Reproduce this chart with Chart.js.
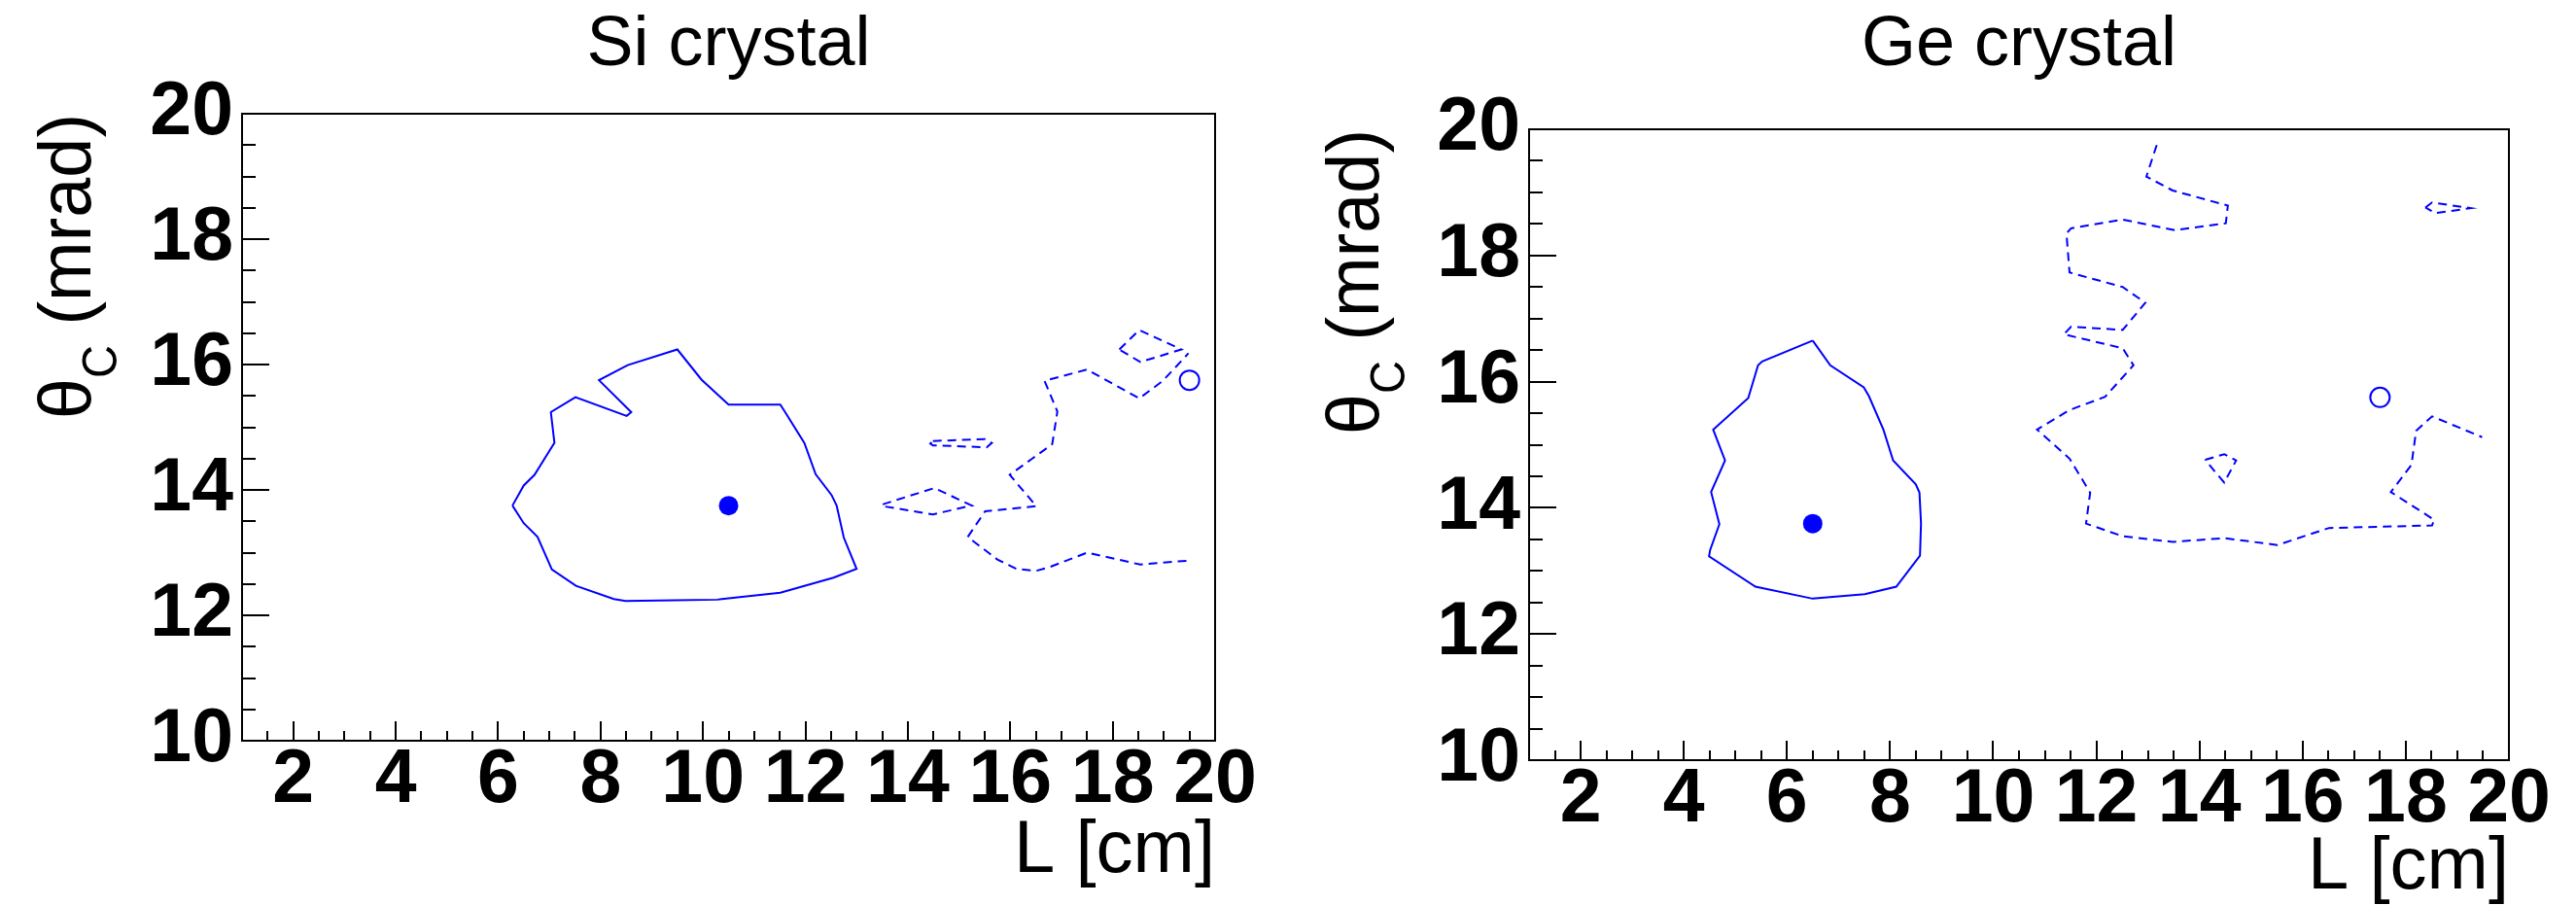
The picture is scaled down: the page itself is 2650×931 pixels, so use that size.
<!DOCTYPE html>
<html><head><meta charset="utf-8">
<script src="https://cdn.jsdelivr.net/npm/chart.js@4.4.1/dist/chart.umd.min.js"></script>
<style>
html,body{margin:0;padding:0;background:#fff;width:2650px;height:931px;overflow:hidden}
canvas{position:absolute;top:0}
#c1{left:0}
#c2{left:1325px}
</style></head><body>
<canvas id="c1" width="1325" height="931"></canvas>
<canvas id="c2" width="1325" height="931"></canvas>
<script>
// ---------------- data ----------------
const xTickLabels = [2, 4, 6, 8, 10, 12, 14, 16, 18, 20];
const yTickLabels = [10, 12, 14, 16, 18, 20];
const panelTitles = ['Si crystal', 'Ge crystal'];
const xAxisTitle = 'L [cm]';

// Si crystal
const siBestL = [10.5];
const siBestTheta = [13.75];
const siOpenL = [19.5];
const siOpenTheta = [15.75];
const siSolidL = [6.28,6.50,6.71,7.10,7.03,7.51,8.51,8.60,7.97,8.53,9.50,9.97,10.50,11.51,11.59,11.98,12.20,12.51,12.61,12.75,13.00,12.55,11.51,10.37,10.28,9.46,8.49,8.26,7.52,7.05,6.77,6.50,6.28];
const siSolidTheta = [13.75,14.07,14.24,14.75,15.24,15.48,15.18,15.24,15.75,15.99,16.24,15.76,15.36,15.36,15.26,14.75,14.25,13.92,13.75,13.24,12.74,12.60,12.36,12.26,12.25,12.24,12.23,12.26,12.47,12.73,13.25,13.47,13.75];
const siDashMainL = [19.44,18.54,17.50,16.77,16.51,16.12,15.75,15.17,15.51,16.51,15.99,16.43,16.82,16.92,16.67,17.50,18.52,18.98,19.48];
const siDashMainTheta = [12.87,12.81,13.00,12.77,12.71,12.74,12.89,13.25,13.66,13.74,14.24,14.50,14.73,15.25,15.74,15.92,15.46,15.74,16.18];
const siDashOvalL = [14.49,15.51,15.64,15.54,14.49,14.44,14.49];
const siDashOvalTheta = [14.78,14.81,14.75,14.68,14.71,14.74,14.78];
const siDashLeftL = [13.51,14.52,15.25,15.08,14.49,13.52,13.51];
const siDashLeftTheta = [13.77,14.03,13.75,13.72,13.61,13.74,13.77];
const siDashTopL = [18.13,18.52,19.34,18.54,18.13];
const siDashTopTheta = [16.24,16.55,16.24,16.04,16.24];

// Ge crystal
const geBestL = [6.5];
const geBestTheta = [13.75];
const geOpenL = [17.5];
const geOpenTheta = [15.75];
const geSolidL = [6.50,6.84,7.49,7.59,7.87,8.06,8.50,8.57,8.60,8.58,8.12,7.51,6.50,5.39,4.49,4.51,4.69,4.53,4.80,4.57,5.25,5.44,5.52,6.50];
const geSolidTheta = [16.65,16.26,15.91,15.77,15.24,14.75,14.37,14.24,13.75,13.24,12.75,12.63,12.56,12.75,13.23,13.33,13.74,14.25,14.75,15.24,15.74,16.26,16.32,16.65];
const geDashMainL = [13.17,12.97,13.48,14.55,14.51,13.52,12.51,11.51,11.42,11.48,12.51,12.95,12.51,11.51,11.37,12.51,12.72,12.17,11.48,10.85,11.48,11.88,11.80,12.51,13.48,14.48,15.51,16.51,18.51,18.55,17.71,18.11,18.20,18.51,19.48];
const geDashMainTheta = [19.75,19.25,19.03,18.79,18.51,18.40,18.57,18.43,18.35,17.73,17.50,17.25,16.82,16.87,16.75,16.53,16.26,15.76,15.55,15.24,14.78,14.24,13.75,13.55,13.46,13.52,13.41,13.68,13.72,13.81,14.25,14.68,15.22,15.45,15.12];
const geDashMidL = [14.11,14.48,14.71,14.48,14.11];
const geDashMidTheta = [14.76,14.85,14.75,14.40,14.76];
const geDashTopL = [18.38,18.51,19.26,18.57,18.38];
const geDashTopTheta = [18.76,18.84,18.75,18.67,18.76];

// ---------------- helpers ----------------
const BLUE = '#0000ff';
const FAMILY = '"Liberation Sans", Arial, Helvetica, sans-serif';
const pts = (xs, ys) => xs.map((x, i) => ({x: x, y: ys[i]}));
function lineDs(xs, ys, dashed) {
  return {data: pts(xs, ys), showLine: true, borderColor: BLUE, borderWidth: 2,
    borderDash: dashed ? [9, 6] : [], pointRadius: 0, pointHoverRadius: 0, fill: false, tension: 0};
}
function markerDs(xs, ys, filled) {
  return {data: pts(xs, ys), showLine: false, pointRadius: 10, pointHoverRadius: 10,
    pointBorderWidth: filled ? 0 : 2, pointBackgroundColor: filled ? BLUE : 'rgba(0,0,0,0)',
    pointBorderColor: BLUE};
}

const rootFrame = {
  id: 'rootFrame',
  afterDraw(chart) {
    const {ctx, chartArea: a, scales: {x, y}} = chart;
    ctx.save();
    ctx.strokeStyle = '#000';
    ctx.lineWidth = 2;
    ctx.strokeRect(a.left, a.top, a.right - a.left, a.bottom - a.top);
    ctx.beginPath();
    for (let v = x.min + 0.5; v < x.max - 1e-6; v += 0.5) {
      const px = Math.round(x.getPixelForValue(v));
      const len = Math.abs(v % 2) < 1e-6 ? 20 : 10;
      ctx.moveTo(px, a.bottom); ctx.lineTo(px, a.bottom - len);
    }
    for (let v = y.min + 0.5; v < y.max - 1e-6; v += 0.5) {
      const py = Math.round(y.getPixelForValue(v));
      const len = Math.abs(v % 2) < 1e-6 ? 28 : 14;
      ctx.moveTo(a.left, py); ctx.lineTo(a.left + len, py);
    }
    ctx.stroke();
    // y-axis title with subscript
    const main = 'normal 400 76px ' + FAMILY, sub = 'normal 400 50px ' + FAMILY;
    ctx.fillStyle = '#000';
    ctx.textBaseline = 'alphabetic';
    ctx.textAlign = 'left';
    ctx.font = main;
    const w1 = Math.min(ctx.measureText('\u03b8').width, 44);
    const w3 = Math.min(ctx.measureText(' (mrad)').width, 238);
    ctx.font = sub;
    const w2 = Math.min(ctx.measureText('C').width, 34);
    const total = w1 + w2 + w3;
    ctx.translate(93, a.top);
    ctx.rotate(-Math.PI / 2);
    const s = -total;
    ctx.font = main; ctx.fillText('\u03b8', s, 0, w1);
    ctx.font = sub; ctx.fillText('C', s + w1, 27, w2);
    ctx.font = main; ctx.fillText(' (mrad)', s + w1 + w2, 0, w3);
    ctx.restore();
  }
};

function makeChart(id, title, datasets, g) {
  return new Chart(document.getElementById(id), {
    type: 'scatter',
    data: {datasets: datasets},
    plugins: [rootFrame],
    options: {
      responsive: false, animation: false, devicePixelRatio: 1,
      layout: {padding: {left: 0, top: 0, right: g.rightPad, bottom: 0}},
      plugins: {
        legend: {display: false}, tooltip: {enabled: false},
        title: {display: true, text: title, fullSize: false, color: '#000',
          font: {family: FAMILY, size: 72, weight: 'normal', lineHeight: 1},
          padding: {top: 11, bottom: g.titleBottom}}
      },
      scales: {
        x: {
          type: 'linear', position: 'bottom', min: 1, max: 20,
          afterBuildTicks: s => { s.ticks = xTickLabels.map(v => ({value: v})); },
          afterFit: s => { s.height = g.xHeight; },
          grid: {display: false, drawTicks: false}, border: {display: false},
          ticks: {autoSkip: false, maxRotation: 0, minRotation: 0, padding: 3, color: '#000',
            font: {family: FAMILY, size: 77, weight: 'bold', lineHeight: 1}},
          title: {display: true, text: xAxisTitle, align: 'end', color: '#000',
            font: {family: FAMILY, size: 76, weight: 'normal', lineHeight: 1},
            padding: {top: 0, bottom: g.xTitleBottom}}
        },
        y: {
          type: 'linear', position: 'left', min: 10, max: 20,
          afterBuildTicks: s => { s.ticks = yTickLabels.map(v => ({value: v})); },
          afterFit: s => { s.width = g.yWidth; },
          grid: {display: false, drawTicks: false}, border: {display: false},
          ticks: {autoSkip: false, padding: 9, color: '#000',
            font: {family: FAMILY, size: 77, weight: 'bold', lineHeight: 1}}
        }
      }
    }
  });
}

makeChart('c1', panelTitles[0], [
  lineDs(siSolidL, siSolidTheta, false),
  lineDs(siDashMainL, siDashMainTheta, true),
  lineDs(siDashOvalL, siDashOvalTheta, true),
  lineDs(siDashLeftL, siDashLeftTheta, true),
  lineDs(siDashTopL, siDashTopTheta, true),
  markerDs(siBestL, siBestTheta, true),
  markerDs(siOpenL, siOpenTheta, false)
], {rightPad: 75, titleBottom: 34, xHeight: 169, yWidth: 249, xTitleBottom: 17});

makeChart('c2', panelTitles[1], [
  lineDs(geSolidL, geSolidTheta, false),
  lineDs(geDashMainL, geDashMainTheta, true),
  lineDs(geDashMidL, geDashMidTheta, true),
  lineDs(geDashTopL, geDashTopTheta, true),
  markerDs(geBestL, geBestTheta, true),
  markerDs(geOpenL, geOpenTheta, false)
], {rightPad: 69, titleBottom: 50, xHeight: 149, yWidth: 248, xTitleBottom: 0});
</script>
</body></html>
